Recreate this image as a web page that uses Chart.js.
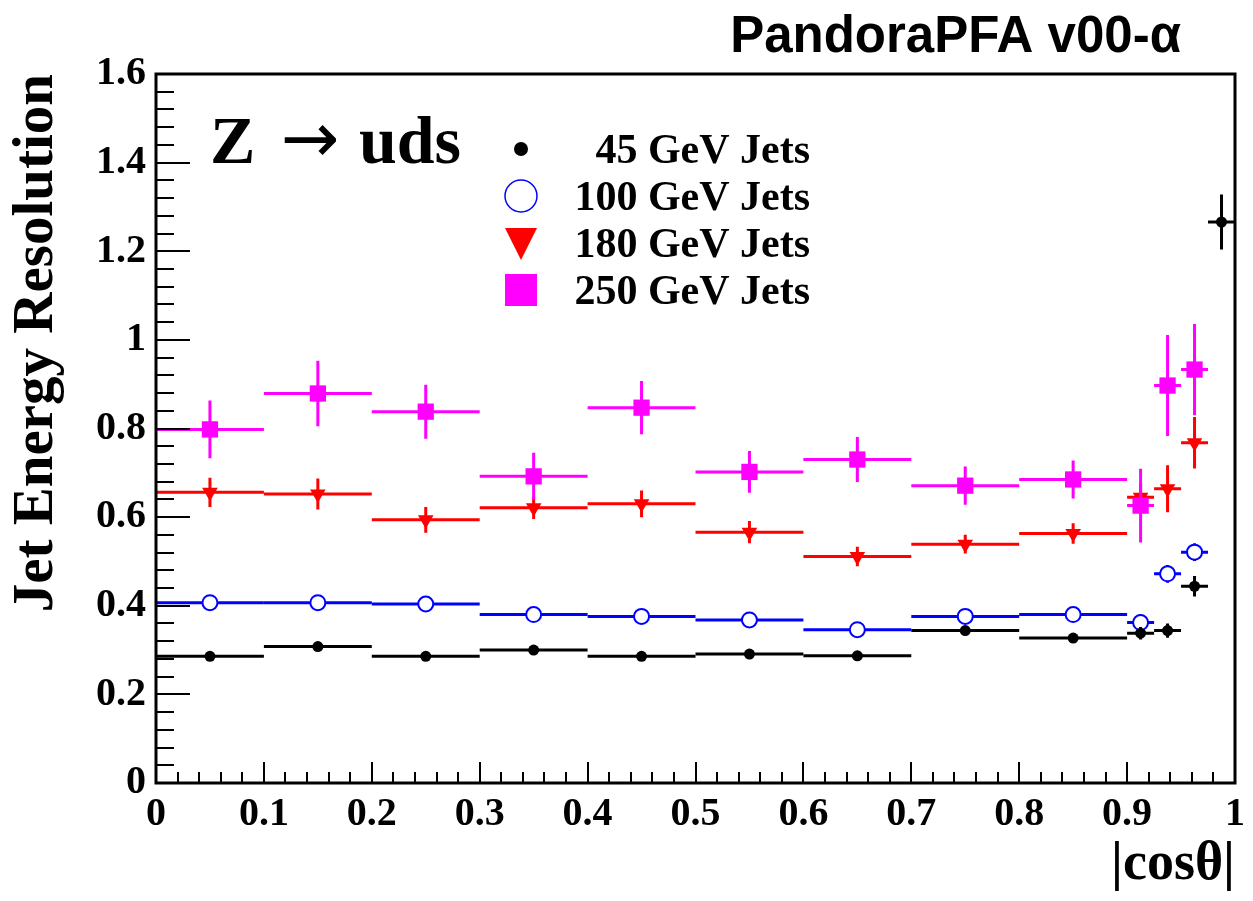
<!DOCTYPE html>
<html>
<head>
<meta charset="utf-8">
<script src="https://cdn.jsdelivr.net/npm/chart.js@4/dist/chart.umd.min.js"></script>
<style>
  html, body { margin: 0; padding: 0; background: #fff; }
  #wrap { width: 1253px; height: 901px; }
</style>
</head>
<body>
<div id="wrap"><canvas id="c" width="1253" height="901"></canvas></div>
<script>
// ---------- data ----------
const xCenters   = [0.05, 0.15, 0.25, 0.35, 0.45, 0.55, 0.65, 0.75, 0.85, 0.9125, 0.9375, 0.9625, 0.9875];
const xHalfWidth = [0.05, 0.05, 0.05, 0.05, 0.05, 0.05, 0.05, 0.05, 0.05, 0.0125, 0.0125, 0.0125, 0.0125];

const seriesLabels = ['45 GeV Jets', '100 GeV Jets', '180 GeV Jets', '250 GeV Jets'];

const res45   = [0.286, 0.308, 0.286, 0.300, 0.286, 0.291, 0.287, 0.344, 0.327, 0.338, 0.344, 0.444, 1.266];
const err45   = [0.004, 0.004, 0.004, 0.004, 0.004, 0.004, 0.004, 0.005, 0.005, 0.014, 0.016, 0.023, 0.062];

const res100  = [0.407, 0.407, 0.404, 0.380, 0.376, 0.368, 0.346, 0.376, 0.380, 0.362, 0.472, 0.521];
const err100  = [0.005, 0.005, 0.005, 0.005, 0.005, 0.005, 0.005, 0.006, 0.006, 0.018, 0.020, 0.020];

const res180  = [0.656, 0.652, 0.594, 0.621, 0.630, 0.566, 0.511, 0.539, 0.563, 0.645, 0.664, 0.768];
const err180  = [0.033, 0.035, 0.029, 0.025, 0.030, 0.025, 0.022, 0.021, 0.023, 0.030, 0.053, 0.058];

const res250  = [0.798, 0.879, 0.838, 0.692, 0.847, 0.702, 0.730, 0.671, 0.685, 0.626, 0.897, 0.933];
const err250  = [0.065, 0.074, 0.061, 0.053, 0.060, 0.047, 0.051, 0.043, 0.043, 0.083, 0.114, 0.103];

const xTickValues = [0, 0.1, 0.2, 0.3, 0.4, 0.5, 0.6, 0.7, 0.8, 0.9, 1];
const xTickLabels = ['0', '0.1', '0.2', '0.3', '0.4', '0.5', '0.6', '0.7', '0.8', '0.9', '1'];
const yTickValues = [0, 0.2, 0.4, 0.6, 0.8, 1.0, 1.2, 1.4, 1.6];
const yTickLabels = ['0', '0.2', '0.4', '0.6', '0.8', '1', '1.2', '1.4', '1.6'];

const titleText = 'PandoraPFA v00-\u03b1';
const processParts = ['Z', '\u2192', 'uds'];   // Z → uds
const xTitle = '|cos\u03b8|';
const yTitle = 'Jet Energy Resolution';

// ---------- helpers ----------
function points(vals, errs) {
  return vals.map((v, i) => ({ x: xCenters[i], y: v, xerr: xHalfWidth[i], yerr: errs[i] }));
}
const SERIF = '"Liberation Serif", "Times New Roman", serif';
const SANS = '"Liberation Sans", Arial, sans-serif';

// ---------- plugins ----------
const errorBars = {
  id: 'errorBars',
  beforeDatasetDraw(chart, args) {
    const ds = chart.data.datasets[args.index];
    const xs = chart.scales.x, ys = chart.scales.y, ctx = chart.ctx;
    ctx.save();
    ctx.strokeStyle = ds.errColor;
    ctx.lineWidth = 3;
    ds.data.forEach(p => {
      if (p.y == null) return;
      const px = xs.getPixelForValue(p.x), py = ys.getPixelForValue(p.y);
      ctx.beginPath();
      ctx.moveTo(xs.getPixelForValue(p.x - p.xerr), py);
      ctx.lineTo(xs.getPixelForValue(p.x + p.xerr), py);
      ctx.moveTo(px, ys.getPixelForValue(p.y - p.yerr));
      ctx.lineTo(px, ys.getPixelForValue(p.y + p.yerr));
      ctx.stroke();
    });
    ctx.restore();
  }
};

const frameAndTicks = {
  id: 'frameAndTicks',
  afterDatasetsDraw(chart) {
    const { ctx, chartArea: a } = chart;
    const xs = chart.scales.x, ys = chart.scales.y;
    ctx.save();
    ctx.strokeStyle = '#000';
    ctx.lineWidth = 2;
    ctx.beginPath();
    for (let i = 0; i < yTickValues.length - 1; i++) {
      const step = (yTickValues[i + 1] - yTickValues[i]) / 5;
      for (let k = 1; k < 5; k++) {
        const py = Math.round(ys.getPixelForValue(yTickValues[i] + k * step));
        ctx.moveTo(a.left, py); ctx.lineTo(a.left + 18, py);
      }
    }
    for (let i = 0; i < xTickValues.length - 1; i++) {
      const step = (xTickValues[i + 1] - xTickValues[i]) / 5;
      for (let k = 1; k < 5; k++) {
        const px = Math.round(xs.getPixelForValue(xTickValues[i] + k * step));
        ctx.moveTo(px, a.bottom); ctx.lineTo(px, a.bottom - 11);
      }
    }
    ctx.stroke();
    ctx.beginPath();
    yTickValues.forEach(v => {
      const py = Math.round(ys.getPixelForValue(v));
      ctx.moveTo(a.left, py); ctx.lineTo(a.left + 34, py);
    });
    xTickValues.forEach(v => {
      const px = Math.round(xs.getPixelForValue(v));
      ctx.moveTo(px, a.bottom); ctx.lineTo(px, a.bottom - 21);
    });
    ctx.stroke();
    ctx.lineWidth = 3;
    ctx.strokeRect(a.left, a.top, a.right - a.left, a.bottom - a.top);
    ctx.restore();
  }
};

const annotations = {
  id: 'annotations',
  afterDraw(chart) {
    const ctx = chart.ctx;
    ctx.save();
    ctx.fillStyle = '#000';
    ctx.textBaseline = 'alphabetic';
    // top title
    ctx.font = 'bold 51px ' + SANS;
    ctx.textAlign = 'right';
    ctx.fillText(titleText, 1181, 52);
    // process label: Z → uds
    ctx.font = 'bold 68px ' + SERIF;
    ctx.textAlign = 'left';
    ctx.fillText(processParts[0], 210, 163);
    ctx.textAlign = 'right';
    ctx.fillText(processParts[2], 461, 163);
    ctx.font = '70px "DejaVu Sans", sans-serif';
    ctx.textAlign = 'center';
    ctx.fillText(processParts[1], 310, 162);
    // legend
    const rows = [149, 196, 243, 290];
    const mx = 521;
    chart.data.datasets.forEach((ds, i) => {
      const y = rows[i];
      ctx.save();
      if (ds.legendShape === 'dot') {
        ctx.fillStyle = ds.errColor;
        ctx.beginPath(); ctx.arc(mx, y, 7, 0, Math.PI * 2); ctx.fill();
      } else if (ds.legendShape === 'ring') {
        ctx.strokeStyle = ds.errColor; ctx.lineWidth = 1.5;
        ctx.beginPath(); ctx.arc(mx, y, 16, 0, Math.PI * 2); ctx.stroke();
      } else if (ds.legendShape === 'tri') {
        ctx.fillStyle = ds.errColor;
        ctx.beginPath();
        ctx.moveTo(mx - 16, y - 15); ctx.lineTo(mx + 16, y - 15); ctx.lineTo(mx, y + 17);
        ctx.closePath(); ctx.fill();
      } else {
        ctx.fillStyle = ds.errColor;
        ctx.fillRect(mx - 16, y - 16, 32, 32);
      }
      ctx.restore();
      ctx.font = 'bold 42px ' + SERIF;
      ctx.textAlign = 'right';
      ctx.fillStyle = '#000';
      ctx.fillText(ds.label, 810, y + 14);
    });
    ctx.restore();
  }
};

// ---------- chart ----------
new Chart(document.getElementById('c'), {
  type: 'scatter',
  data: {
    datasets: [
      { label: seriesLabels[0], data: points(res45, err45), order: 0,
        pointStyle: 'circle', pointRadius: 5.5, pointBackgroundColor: '#000', pointBorderColor: '#000', pointBorderWidth: 0,
        errColor: '#000000', legendShape: 'dot' },
      { label: seriesLabels[1], data: points(res100, err100), order: 1,
        pointStyle: 'circle', pointRadius: 7.5, pointBackgroundColor: '#fff', pointBorderColor: '#0000ff', pointBorderWidth: 2,
        errColor: '#0000ff', legendShape: 'ring' },
      { label: seriesLabels[2], data: points(res180, err180), order: 3,
        pointStyle: 'triangle', rotation: 180, pointRadius: 9, pointBackgroundColor: '#ff0000', pointBorderColor: '#ff0000', pointBorderWidth: 0,
        errColor: '#ff0000', legendShape: 'tri' },
      { label: seriesLabels[3], data: points(res250, err250), order: 2,
        pointStyle: 'rect', pointRadius: 11.5, pointBackgroundColor: '#ff00ff', pointBorderColor: '#ff00ff', pointBorderWidth: 0,
        errColor: '#ff00ff', legendShape: 'square' }
    ]
  },
  options: {
    responsive: false,
    animation: false,
    events: [],
    clip: false,
    layout: { padding: { top: 74, right: 12, left: 0, bottom: 0 } },
    plugins: { legend: { display: false }, tooltip: { enabled: false }, title: { display: false } },
    scales: {
      x: {
        type: 'linear', min: 0, max: 1,
        grid: { display: false, drawTicks: false },
        border: { display: false },
        afterBuildTicks: s => { s.ticks = xTickValues.map(v => ({ value: v })); },
        afterFit: s => { s.height = 118; },
        ticks: {
          autoSkip: false, maxRotation: 0, padding: 8, color: '#000',
          font: { family: SERIF, size: 40, weight: 'bold' },
          callback: (v, i) => xTickLabels[i]
        },
        title: {
          display: true, text: xTitle, align: 'end', color: '#000',
          font: { family: SERIF, size: 54, weight: 'bold', lineHeight: 1.0 },
          padding: { top: 0, bottom: 9 }
        }
      },
      y: {
        type: 'linear', min: 0, max: 1.6,
        grid: { display: false, drawTicks: false },
        border: { display: false },
        afterBuildTicks: s => { s.ticks = yTickValues.map(v => ({ value: v })); },
        afterFit: s => { s.width = 156; },
        ticks: {
          autoSkip: false, padding: 10, color: '#000',
          font: { family: SERIF, size: 40, weight: 'bold' },
          callback: (v, i) => yTickLabels[i]
        },
        title: {
          display: true, text: yTitle, align: 'end', color: '#000',
          font: { family: SERIF, size: 57, weight: 'bold', lineHeight: 1.0 },
          padding: { top: 9, bottom: 0 }
        }
      }
    }
  },
  plugins: [errorBars, frameAndTicks, annotations]
});
</script>
</body>
</html>
